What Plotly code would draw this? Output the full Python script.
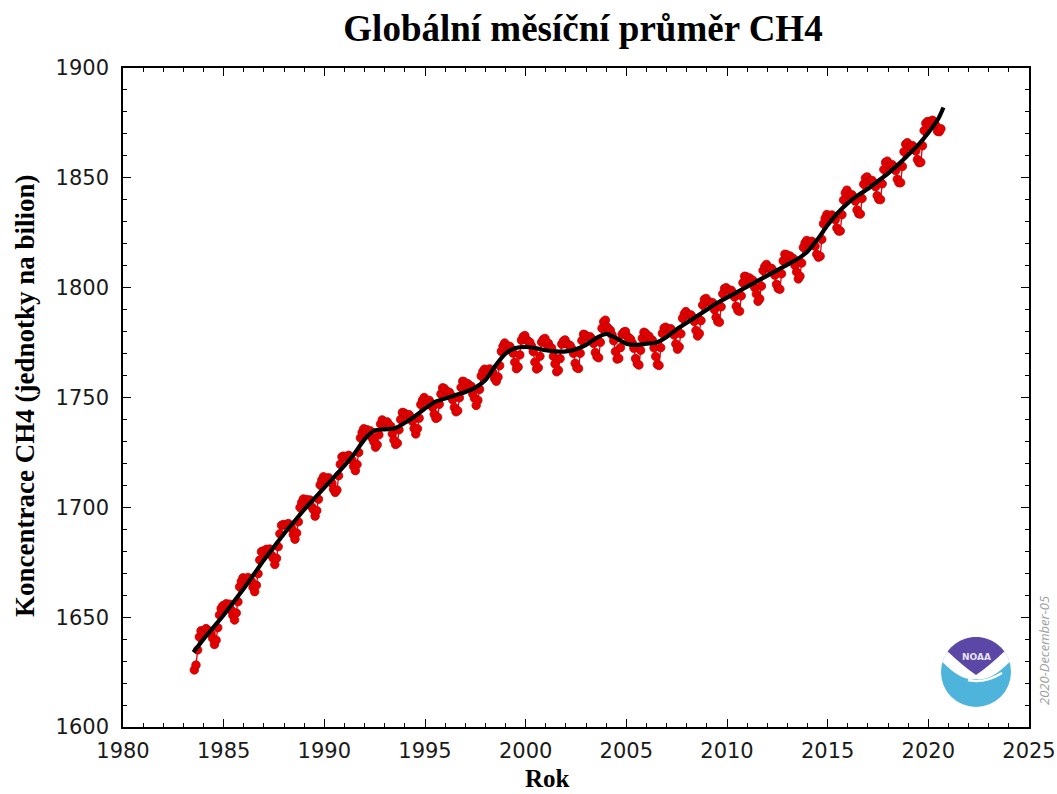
import math
import plotly.graph_objects as go

# ---------------- data ----------------
start_year = 1983
start_month = 7  # first monthly value: July 1983

ch4_1983_1989 = [
    # 1983 Jul-Dec
    1626.0, 1628.2, 1635.1, 1641.0, 1643.8, 1643.1,
    # 1984
    1642.9, 1644.8, 1644.0, 1643.6, 1642.5, 1640.3, 1637.6, 1639.5, 1645.2, 1651.0, 1654.0, 1655.2,
    # 1985
    1654.8, 1656.1, 1655.0, 1655.9, 1653.2, 1650.8, 1648.7, 1651.9, 1657.0, 1663.8, 1666.2, 1667.9,
    # 1986
    1667.0, 1667.2, 1668.1, 1667.3, 1666.4, 1663.5, 1661.6, 1664.5, 1669.8, 1676.0, 1679.8, 1680.1,
    # 1987
    1679.2, 1680.9, 1680.1, 1681.0, 1678.2, 1676.9, 1674.0, 1676.8, 1682.1, 1688.0, 1691.8, 1692.2,
    # 1988
    1691.9, 1692.0, 1692.6, 1691.8, 1690.5, 1687.6, 1685.5, 1688.3, 1693.4, 1699.9, 1702.2, 1703.8,
    # 1989
    1702.1, 1703.6, 1702.8, 1703.3, 1700.2, 1698.9, 1696.0, 1698.5, 1703.7, 1710.2, 1712.4, 1713.9,
]

ch4_1990_1999 = [
    # 1990
    1712.7, 1712.9, 1713.5, 1712.5, 1711.0, 1708.2, 1706.8, 1707.9, 1714.4, 1719.6, 1723.0, 1723.3,
    # 1991
    1722.8, 1723.0, 1723.7, 1722.9, 1721.4, 1718.6, 1716.7, 1719.5, 1725.0, 1731.6, 1734.1, 1735.8,
    # 1992
    1734.6, 1735.3, 1734.4, 1734.8, 1731.6, 1729.9, 1727.4, 1728.5, 1733.0, 1737.9, 1739.8, 1738.6,
    # 1993
    1738.2, 1738.9, 1737.4, 1737.0, 1733.5, 1730.6, 1728.6, 1729.2, 1735.3, 1740.0, 1743.2, 1743.0,
    # 1994
    1742.1, 1741.9, 1742.2, 1740.9, 1739.2, 1735.9, 1733.4, 1735.8, 1740.6, 1746.8, 1748.8, 1750.0,
    # 1995
    1748.6, 1748.4, 1748.7, 1747.5, 1745.6, 1742.4, 1740.5, 1741.0, 1746.9, 1751.6, 1754.4, 1754.1,
    # 1996
    1752.9, 1752.5, 1752.4, 1751.0, 1749.0, 1745.5, 1743.5, 1744.0, 1749.9, 1754.6, 1757.4, 1757.1,
    # 1997
    1755.4, 1756.3, 1755.0, 1755.1, 1751.6, 1749.7, 1746.4, 1748.8, 1753.7, 1759.8, 1761.8, 1762.9,
    # 1998
    1761.8, 1762.3, 1763.0, 1762.4, 1761.3, 1758.6, 1757.4, 1759.3, 1764.5, 1771.0, 1773.3, 1774.8,
    # 1999
    1773.5, 1773.2, 1773.3, 1772.1, 1770.2, 1766.0, 1763.1, 1763.9, 1769.4, 1776.1, 1777.6, 1778.2,
]

ch4_2000_2009 = [
    # 2000
    1776.3, 1775.6, 1775.1, 1773.4, 1770.9, 1766.1, 1763.0, 1763.6, 1768.8, 1775.2, 1776.4, 1776.9,
    # 2001
    1774.2, 1774.7, 1773.0, 1772.5, 1768.8, 1765.3, 1761.7, 1762.4, 1767.7, 1774.3, 1775.7, 1776.2,
    # 2002
    1774.4, 1774.0, 1773.7, 1772.3, 1770.1, 1765.6, 1763.6, 1763.2, 1770.1, 1775.9, 1778.8, 1778.5,
    # 2003
    1777.6, 1777.5, 1777.6, 1776.5, 1774.6, 1770.5, 1768.6, 1768.1, 1775.1, 1781.5, 1784.5, 1785.2,
    # 2004
    1782.1, 1781.2, 1780.5, 1778.5, 1775.8, 1770.9, 1767.5, 1767.8, 1772.7, 1778.8, 1779.8, 1780.0,
    # 2005
    1777.8, 1777.1, 1776.6, 1774.9, 1772.4, 1767.7, 1765.4, 1764.8, 1771.5, 1777.0, 1779.7, 1779.2,
    # 2006
    1777.2, 1777.9, 1776.4, 1776.1, 1772.6, 1768.7, 1765.0, 1764.6, 1772.7, 1779.2, 1781.6, 1782.0,
    # 2007
    1781.1, 1781.0, 1781.3, 1780.2, 1778.4, 1774.4, 1772.0, 1773.1, 1779.0, 1786.1, 1788.0, 1789.1,
    # 2008
    1787.6, 1787.5, 1787.6, 1786.5, 1784.6, 1780.5, 1778.0, 1779.1, 1785.0, 1792.1, 1794.6, 1795.1,
    # 2009
    1793.6, 1793.5, 1793.0, 1793.1, 1790.0, 1786.5, 1784.6, 1784.3, 1791.3, 1797.2, 1799.6, 1800.0,
]

ch4_2010_2020 = [
    # 2010
    1799.0, 1798.8, 1798.8, 1797.7, 1795.7, 1791.5, 1789.6, 1789.3, 1796.3, 1802.2, 1805.2, 1805.0,
    # 2011
    1803.4, 1804.4, 1803.2, 1803.3, 1800.1, 1797.1, 1793.8, 1794.9, 1800.7, 1807.8, 1809.6, 1810.6,
    # 2012
    1809.0, 1808.8, 1808.8, 1807.7, 1805.7, 1801.5, 1799.6, 1799.3, 1806.3, 1812.2, 1815.2, 1815.0,
    # 2013
    1813.4, 1814.4, 1813.2, 1813.3, 1810.1, 1807.1, 1804.0, 1805.2, 1811.2, 1818.3, 1820.3, 1821.5,
    # 2014
    1820.3, 1820.6, 1821.1, 1820.4, 1818.9, 1815.2, 1813.9, 1814.3, 1822.0, 1829.1, 1831.6, 1833.3,
    # 2015
    1832.3, 1832.6, 1833.1, 1832.4, 1830.9, 1827.2, 1825.8, 1825.8, 1833.2, 1839.9, 1843.1, 1844.4,
    # 2016
    1842.1, 1842.1, 1842.3, 1841.2, 1839.4, 1835.4, 1833.7, 1833.5, 1840.6, 1847.1, 1849.9, 1850.4,
    # 2017
    1848.6, 1848.6, 1848.8, 1847.7, 1845.9, 1841.9, 1840.2, 1840.1, 1847.3, 1853.8, 1857.0, 1857.6,
    # 2018
    1855.6, 1855.7, 1856.0, 1855.0, 1853.3, 1849.4, 1847.8, 1847.8, 1855.2, 1861.9, 1865.3, 1866.0,
    # 2019
    1864.2, 1864.3, 1864.7, 1863.8, 1862.2, 1858.3, 1856.9, 1857.1, 1864.6, 1871.5, 1874.8, 1875.6,
    # 2020 Jan-Aug
    1874.4, 1875.8, 1876.2, 1875.5, 1873.8, 1871.2, 1871.0, 1872.3,
]

trend_years = [
    1983.5, 1984.0, 1984.5, 1985.0, 1985.5, 1986.0, 1986.5, 1987.0, 1987.5, 1988.0,
    1988.5, 1989.0, 1989.5, 1990.0, 1990.5, 1991.0, 1991.5, 1992.0, 1992.5, 1993.0,
    1993.5, 1994.0, 1994.5, 1995.0, 1995.5, 1996.0, 1996.5, 1997.0, 1997.5, 1998.0,
    1998.5, 1999.0, 1999.5, 2000.0, 2000.5, 2001.0, 2001.5, 2002.0, 2002.5, 2003.0,
    2003.5, 2004.0, 2004.5, 2005.0, 2005.5, 2006.0, 2006.5, 2007.0, 2007.5, 2008.0,
    2008.5, 2009.0, 2009.5, 2010.0, 2010.5, 2011.0, 2011.5, 2012.0, 2012.5, 2013.0,
    2013.5, 2014.0, 2014.5, 2015.0, 2015.5, 2016.0, 2016.5, 2017.0, 2017.5, 2018.0,
    2018.5, 2019.0, 2019.5, 2020.0, 2020.5, 2020.75,
]
trend_ppb = [
    1634.0, 1640.0, 1645.5, 1651.0, 1657.0, 1663.0, 1669.5, 1676.0, 1682.0, 1688.0,
    1693.5, 1699.0, 1704.0, 1709.0, 1714.0, 1719.0, 1724.5, 1731.0, 1735.0, 1735.5,
    1736.0, 1738.5, 1741.5, 1745.0, 1748.0, 1749.5, 1751.0, 1752.5, 1754.5, 1758.0,
    1764.5, 1770.0, 1772.5, 1773.0, 1772.5, 1771.5, 1771.0, 1771.0, 1772.0, 1774.0,
    1777.0, 1779.0, 1777.0, 1774.5, 1774.0, 1774.5, 1775.0, 1777.5, 1781.0, 1784.0,
    1787.0, 1790.0, 1793.0, 1795.5, 1798.0, 1800.5, 1803.0, 1805.5, 1808.0, 1810.5,
    1813.0, 1816.5, 1822.0, 1828.5, 1834.0, 1838.5, 1842.0, 1845.0, 1848.5, 1852.0,
    1856.0, 1860.5, 1865.0, 1870.5, 1877.0, 1882.0,
]

x_tick_vals = [1980, 1985, 1990, 1995, 2000, 2005, 2010, 2015, 2020, 2025]
y_tick_vals = [1600, 1650, 1700, 1750, 1800, 1850, 1900]

title_text = "Globální měsíční průměr CH4"
y_title = "Koncentrace CH4 (jednotky na bilion)"
x_title = "Rok"
stamp_text = "2020-December-05"

# ---------------- build figure ----------------
monthly = ch4_1983_1989 + ch4_1990_1999 + ch4_2000_2009 + ch4_2010_2020
month_x = [start_year + (start_month - 1 + i + 0.5) / 12.0 for i in range(len(monthly))]

fig = go.Figure()
fig.add_trace(go.Scatter(
    x=month_x, y=monthly, mode="lines+markers",
    line=dict(color="#e8000b", width=1.3),
    marker=dict(color="#e50000", size=8.5, line=dict(color="#c00000", width=0.8)),
    showlegend=False, hoverinfo="skip",
))
fig.add_trace(go.Scatter(
    x=trend_years, y=trend_ppb, mode="lines",
    line=dict(color="black", width=4.2, shape="spline", smoothing=0.8),
    showlegend=False, hoverinfo="skip",
))

W, H = 1057, 794
L, R, T, B = 123, 28, 68, 67
pw, ph = W - L - R, H - T - B


def px_to_paper(px, py):
    return (px - L) / pw, (H - B - py) / ph


axis_common = dict(
    showline=True, linecolor="black", linewidth=1.6, mirror="ticks",
    ticks="inside", ticklen=8, tickwidth=1.3, tickcolor="black",
    showgrid=False, zeroline=False, automargin=False,
    tickfont=dict(family="DejaVu Sans", size=21, color="#1a1a1a"),
)

fig.update_layout(
    width=W, height=H,
    margin=dict(l=L, r=R, t=T, b=B, pad=0, autoexpand=False),
    paper_bgcolor="white", plot_bgcolor="white",
    xaxis=dict(range=[1980, 2025], tickvals=x_tick_vals,
               ticktext=[str(v) for v in x_tick_vals],
               minor=dict(dtick=1, tick0=1980, ticks="inside", ticklen=4,
                          tickwidth=1, tickcolor="black", showgrid=False),
               ticklabelstandoff=4,
               **axis_common),
    yaxis=dict(range=[1600, 1900], tickvals=y_tick_vals,
               ticktext=[str(v) for v in y_tick_vals],
               minor=dict(dtick=10, tick0=1600, ticks="inside", ticklen=4,
                          tickwidth=1, tickcolor="black", showgrid=False),
               ticklabelstandoff=8,
               **axis_common),
    title=dict(text="<b>" + title_text + "</b>", x=583 / W, xanchor="center",
               y=1 - 28 / H, yanchor="middle", yref="container",
               font=dict(family="Liberation Serif", size=37, color="black")),
)

# axis titles
ax, ay = px_to_paper(25, 396)
fig.add_annotation(text="<b>" + y_title + "</b>", xref="paper", yref="paper",
                   x=ax, y=ay, xanchor="center", yanchor="middle", textangle=-90,
                   showarrow=False,
                   font=dict(family="Liberation Serif", size=27, color="black"))
ax, ay = px_to_paper(547, 793)
fig.add_annotation(text="<b>" + x_title + "</b>", xref="paper", yref="paper",
                   x=ax, y=ay, xanchor="center", yanchor="bottom",
                   showarrow=False, borderpad=0,
                   font=dict(family="Liberation Serif", size=25, color="black"))
ax, ay = px_to_paper(1044, 651)
fig.add_annotation(text="<i>" + stamp_text + "</i>", xref="paper", yref="paper",
                   x=ax, y=ay, xanchor="center", yanchor="middle", textangle=-90,
                   showarrow=False,
                   font=dict(family="Open Sans", size=13, color="#a0a0a0"))

# ---------------- NOAA logo (decoration) ----------------
lx, ly = px_to_paper(976, 672)
Rl = 35.0


def arc_pts(a0, a1, n=24):
    pts = []
    for k in range(n + 1):
        a = math.radians(a0 + (a1 - a0) * k / n)
        pts.append((Rl * math.cos(a), Rl * math.sin(a)))
    return pts


logo_common = dict(xref="paper", yref="paper", xsizemode="pixel", ysizemode="pixel",
                   xanchor=lx, yanchor=ly, layer="above")

# cyan disc
fig.add_shape(type="circle", x0=-Rl, x1=Rl, y0=-Rl, y1=Rl,
              fillcolor="#4fb4dc", line=dict(width=0), **logo_common)
# white upper region (gap between bird and water)
hx = math.sqrt(Rl ** 2 - 100)
a_r = math.degrees(math.atan2(10, hx))
p = "M %.2f,%.2f Q -14,-10 0,-7 Q 14,-10 %.2f,%.2f " % (-hx, 10, hx, 10)
for (xx, yy) in arc_pts(a_r, 180 - a_r)[::-1]:
    p += "L %.2f,%.2f " % (xx, yy)
p += "Z"
fig.add_shape(type="path", path=p, fillcolor="white", line=dict(width=0), **logo_common)
# purple cap
pts = arc_pts(36, 144)
p = "M %.2f,%.2f " % pts[0]
for (xx, yy) in pts[1:]:
    p += "L %.2f,%.2f " % (xx, yy)
p += "Q -13,6 0,-3 Q 13,6 %.2f,%.2f Z" % pts[0]
fig.add_shape(type="path", path=p, fillcolor="#5a47a6", line=dict(width=0), **logo_common)
# white tail stroke
fig.add_shape(type="path", path="M -8,-8 Q 8,-12 26,-1", line=dict(color="white", width=2.5),
              **logo_common)
fig.add_annotation(text="<b>NOAA</b>", xref="paper", yref="paper", x=lx, y=ly,
                   yshift=15, xanchor="center", yanchor="middle", showarrow=False,
                   font=dict(family="DejaVu Sans", size=9, color="#e8e4f6"))

fig.write_html("out.html")
